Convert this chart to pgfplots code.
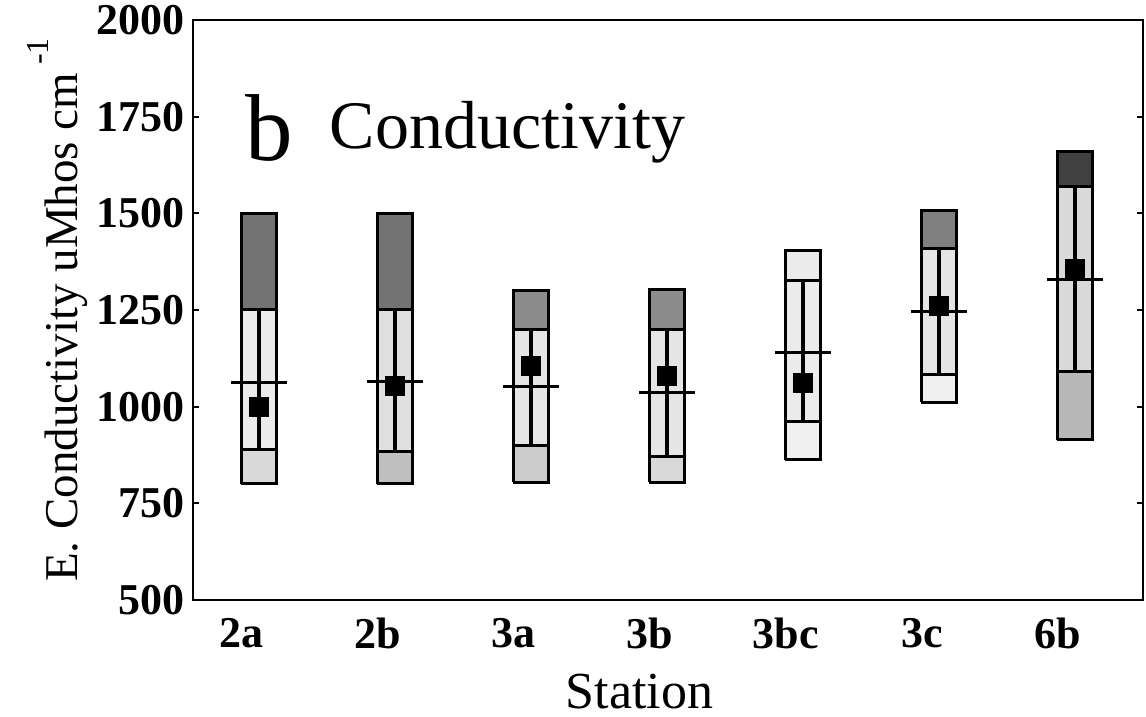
\documentclass[border=0pt]{standalone}
\usepackage{fontspec}
\setmainfont{Liberation Serif}
\usepackage{pgfplots}
\pgfplotsset{compat=1.18}
\newcommand{\seg}[5]{\addplot[fill=#1, draw=black, line width=3pt, line join=miter] coordinates {(#2,#4) (#3,#4) (#3,#5) (#2,#5) (#2,#4)};}
\begin{document}
\begin{tikzpicture}
\begin{axis}[
  scale only axis, width=950pt, height=580pt,
  xmin=-0.485, xmax=6.5, ymin=500, ymax=2000,
  axis line style={line width=2.5pt},
  ytick={500,750,...,2000},
  xtick={0,...,6}, xticklabels={2a,2b,3a,3b,3bc,3c,6b},
  xtick style={draw=none},
  ytick style={line width=2pt, black},
  major tick length=6pt, tick align=inside,
  /pgf/number format/1000 sep={},
  /pgf/number format/assume math mode=true,
  yticklabel style={font=\bfseries\fontsize{44}{44}\selectfont, inner sep=0pt, anchor=east, xshift=-8pt},
  xticklabel style={font=\bfseries\fontsize{44}{44}\selectfont, inner sep=0pt, anchor=north, yshift=-18pt, xshift=-17pt},
  xlabel={Station},
  xlabel style={font=\fontsize{52}{52}\selectfont, at={(axis description cs:0.47,0)}, anchor=base, yshift=-108pt, inner sep=0pt},
  ylabel={E. Conductivity uMhos cm\,\raisebox{0.62em}{\fontsize{32}{32}\selectfont -1}},
  ylabel style={font=\fontsize{47}{47}\selectfont, at={([xshift=-115pt]axis description cs:0,0.5)}, anchor=base, inner sep=0pt},
  clip=false,
]
% 2a
\seg{black!15}{-0.13}{0.13}{800}{890}
\seg{black!8}{-0.13}{0.13}{890}{1250}
\seg{black!55}{-0.13}{0.13}{1250}{1500}
% 2b
\seg{black!25}{0.87}{1.13}{800}{885}
\seg{black!12}{0.87}{1.13}{885}{1250}
\seg{black!55}{0.87}{1.13}{1250}{1500}
% 3a
\seg{black!20}{1.87}{2.13}{805}{900}
\seg{black!10}{1.87}{2.13}{900}{1200}
\seg{black!45}{1.87}{2.13}{1200}{1300}
% 3b
\seg{black!15}{2.87}{3.13}{805}{872}
\seg{black!10}{2.87}{3.13}{872}{1200}
\seg{black!45}{2.87}{3.13}{1200}{1303}
% 3bc
\seg{black!6}{3.87}{4.13}{863}{962}
\seg{black!8}{3.87}{4.13}{962}{1325}
\seg{black!8}{3.87}{4.13}{1325}{1405}
% 3c
\seg{black!6}{4.87}{5.13}{1012}{1082}
\seg{black!10}{4.87}{5.13}{1082}{1410}
\seg{black!50}{4.87}{5.13}{1410}{1507}
% 6b
\seg{black!28}{5.87}{6.13}{915}{1090}
\seg{black!15}{5.87}{6.13}{1090}{1570}
\seg{black!75}{5.87}{6.13}{1570}{1660}
% centre lines
\addplot[black, line width=4pt] coordinates {(0,890) (0,1250)};
\addplot[black, line width=4pt] coordinates {(1,885) (1,1250)};
\addplot[black, line width=4pt] coordinates {(2,900) (2,1200)};
\addplot[black, line width=4pt] coordinates {(3,872) (3,1200)};
\addplot[black, line width=4pt] coordinates {(4,962) (4,1325)};
\addplot[black, line width=4pt] coordinates {(5,1082) (5,1410)};
\addplot[black, line width=4pt] coordinates {(6,1090) (6,1570)};
% horizontal lines
\addplot[only marks, mark=-, mark size=28pt, mark options={line width=3pt, black}] coordinates {(0,1063) (1,1066) (2,1053) (3,1036) (4,1141) (5,1245) (6,1330)};
% means
\addplot[only marks, mark=square*, mark size=9.5pt, mark options={black, fill=black}] coordinates {(0,1000) (1,1053) (2,1105) (3,1080) (4,1062) (5,1261) (6,1357)};
\node[anchor=base west, inner sep=0pt, font=\fontsize{95}{95}\selectfont] at (axis description cs:0.0547,0.7586) {b};
\node[anchor=base west, inner sep=0pt, font=\fontsize{68}{68}\selectfont] at (axis description cs:0.144,0.779) {Conductivity};
\end{axis}
\pgfresetboundingbox
\path[use as bounding box] (-193pt,-117pt) rectangle (953pt,600pt);
\end{tikzpicture}
\end{document}
